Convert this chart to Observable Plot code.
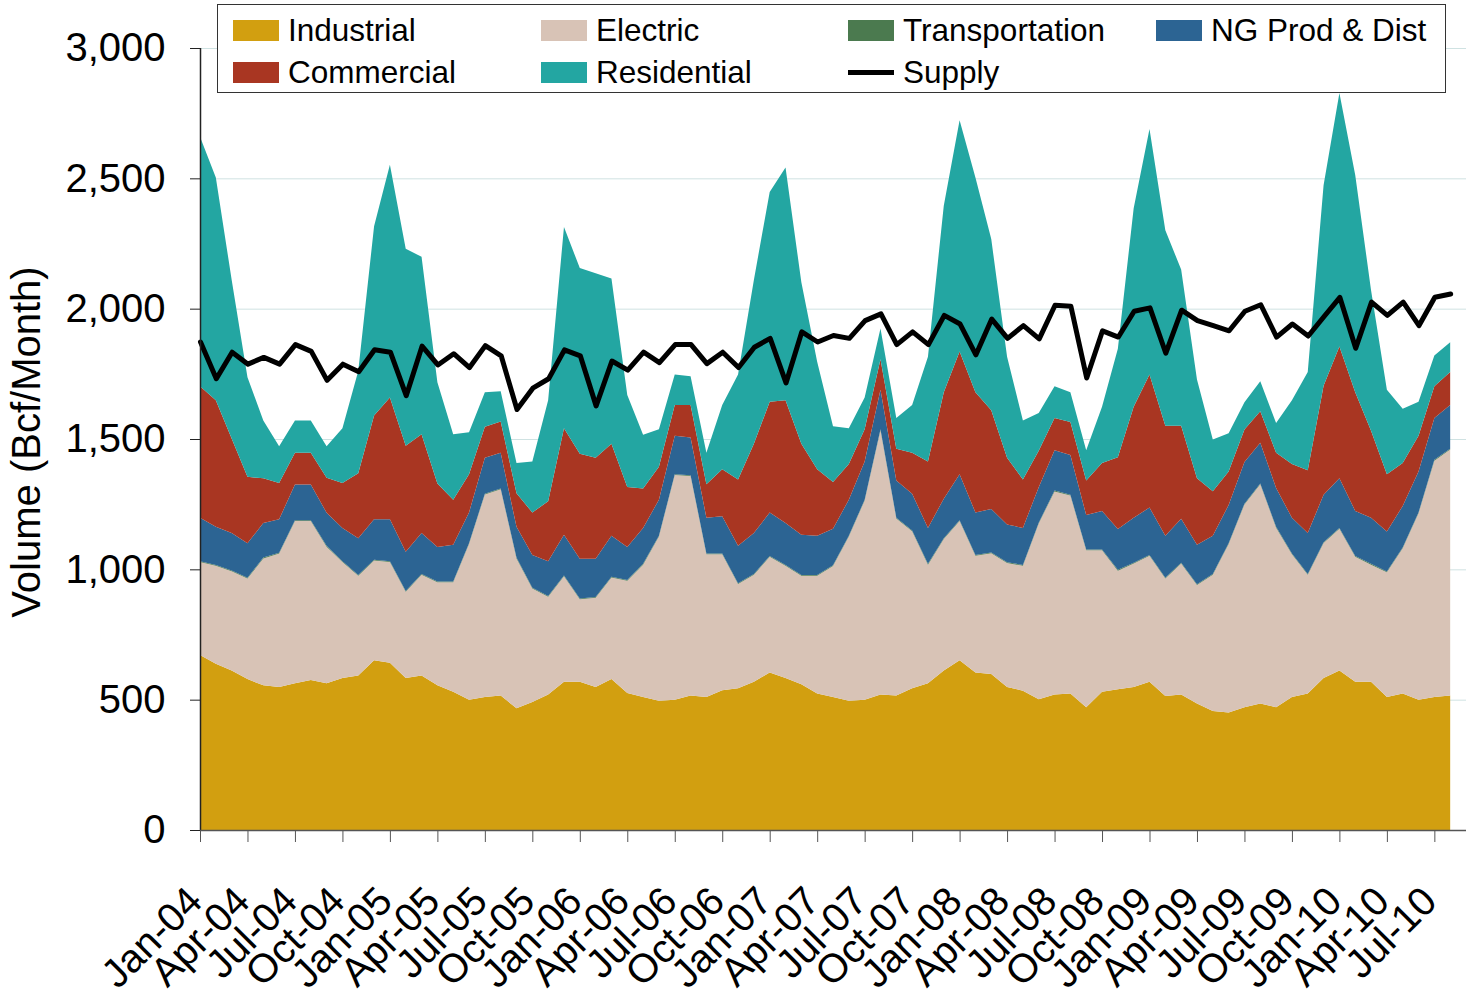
<!DOCTYPE html>
<html>
<head>
<meta charset="utf-8">
<script src="https://cdn.jsdelivr.net/npm/d3@7"></script>
<script src="https://cdn.jsdelivr.net/npm/@observablehq/plot@0.6"></script>
<style>
  html, body { margin: 0; padding: 0; background: #fff; }
  #wrap { position: relative; width: 1466px; height: 997px; font-family: "Liberation Sans", Arial, sans-serif; }
  #legend { position: absolute; left: 217px; top: 4px; width: 1229px; height: 89px; border: 1.5px solid #333; background: #fff; box-sizing: border-box; }
  .item { position: absolute; font-size: 31.5px; line-height: 32px; color: #000; white-space: nowrap; }
  .sw { position: absolute; width: 46px; height: 21px; }
  .ln { position: absolute; width: 46px; height: 5px; background: #000; }
  #ylabel { position: absolute; left: 26px; top: 442px; transform: translate(-50%, -50%) rotate(-90deg); font-size: 40px; white-space: nowrap; color: #000; }
</style>
</head>
<body>
<div id="wrap"><div id="chart"></div><div id="legend"></div><div id="ylabel">Volume (Bcf/Month)</div></div>
<script>
// ---------- data (Bcf/Month), monthly Jan-04 .. Aug-10 ----------
const seriesNames = ["Industrial", "Electric", "Transportation", "NG Prod & Dist", "Commercial", "Residential"];
const seriesColors = ["#D29F10", "#D8C3B6", "#4B7A4F", "#2C6493", "#A93622", "#23A6A2"];
const legendOrder = ["Industrial", "Electric", "Transportation", "NG Prod & Dist", "Commercial", "Residential", "Supply"];

const tickLabels = ["Jan-04","Apr-04","Jul-04","Oct-04","Jan-05","Apr-05","Jul-05","Oct-05","Jan-06","Apr-06","Jul-06","Oct-06","Jan-07","Apr-07","Jul-07","Oct-07","Jan-08","Apr-08","Jul-08","Oct-08","Jan-09","Apr-09","Jul-09","Oct-09","Jan-10","Apr-10","Jul-10"];
const yTicks = [0, 500, 1000, 1500, 2000, 2500, 3000];

const industrial = [
  671,638,612,579,555,549,563,575,563,583,
  593,651,642,583,593,555,530,500,510,516,
  467,491,520,569,569,549,579,526,510,496,
  500,516,510,536,544,569,604,583,559,524,
  510,496,500,520,516,544,563,612,651,604,
  598,549,534,502,520,524,471,530,540,549,
  569,514,520,485,457,451,471,485,471,510,
  524,583,612,569,569,510,524,500,510,516];
const electric = [
  357,376,381,386,487,512,622,610,524,445,
  382,383,386,331,386,395,420,597,777,791,
  575,435,375,404,316,342,390,430,508,630,
  862,842,548,522,400,410,444,431,416,451,
  503,630,764,1014,679,602,455,504,534,448,
  464,475,480,674,779,759,602,543,455,473,
  483,451,502,455,522,646,778,841,689,548,
  455,518,544,479,449,479,557,715,907,944];
const transportation = [
  3,3,3,3,3,3,3,3,3,3,
  3,3,3,3,3,3,3,3,3,3,
  3,3,3,3,3,3,3,3,3,3,
  3,3,3,3,3,3,3,3,3,3,
  3,3,3,3,3,3,3,3,3,3,
  3,3,3,3,3,3,3,3,3,3,
  3,3,3,3,3,3,3,3,3,3,
  3,3,3,3,3,3,3,3,3,3];
const ngProdDist = [
  167,146,143,132,133,128,137,137,127,128,
  141,155,161,150,157,133,141,118,138,137,
  118,126,133,157,153,147,157,127,138,138,
  147,145,137,143,143,157,167,161,155,151,
  140,138,147,152,143,141,138,152,177,163,
  166,145,142,136,155,153,132,148,157,173,
  182,161,169,151,147,147,160,157,149,137,
  157,182,190,173,177,153,159,157,161,167];
const commercial = [
  504,486,363,255,171,139,122,122,134,172,
  250,398,467,407,379,243,173,147,119,120,
  129,163,230,408,402,387,353,230,151,127,
  118,124,128,180,255,343,425,471,349,255,
  179,137,123,117,122,157,255,408,471,461,
  379,256,186,140,124,126,133,184,275,426,
  510,422,357,255,171,128,124,120,135,206,
  241,418,506,455,334,220,165,137,121,127];
const residential = [
  958,854,609,382,222,141,124,124,121,210,
  392,726,893,756,681,389,251,161,132,116,
  116,196,388,772,713,708,634,353,206,143,
  117,111,121,246,402,628,805,893,619,412,
  214,137,122,118,118,183,402,716,887,824,
  657,388,226,145,121,114,116,216,416,761,
  942,750,599,379,198,147,105,116,114,245,
  377,769,972,834,539,324,208,131,118,114];
const supply = [
  1874,1733,1835,1789,1815,1789,1864,1838,1727,1789,
  1760,1844,1835,1668,1858,1786,1829,1776,1860,1821,
  1615,1697,1733,1844,1821,1629,1801,1766,1835,1795,
  1864,1864,1791,1835,1776,1854,1888,1717,1913,1874,
  1899,1888,1956,1982,1864,1913,1864,1976,1943,1825,
  1962,1888,1937,1886,2015,2011,1736,1917,1893,1992,
  2005,1831,1996,1956,1937,1917,1992,2017,1893,1943,
  1897,1972,2045,1850,2027,1976,2027,1937,2046,2058];

// ---------- build tables ----------
const seriesValues = [industrial, electric, transportation, ngProdDist, commercial, residential];
const stacked = seriesNames.flatMap((name, s) => seriesValues[s].map((v, m) => ({m, series: name, value: v})));
const supplyData = supply.map((v, m) => ({m, value: v}));
const xTicks = tickLabels.map((_, i) => i * 3);
const FONT = '"Liberation Sans", Arial, sans-serif';

const chart = Plot.plot({
  width: 1466,
  height: 997,
  marginLeft: 200,
  marginRight: 0,
  marginTop: 48,
  marginBottom: 167,
  style: {fontFamily: FONT, background: "transparent", color: "#000"},
  x: {domain: [0, 80], label: null},
  y: {domain: [0, 3000], label: null},
  color: {domain: seriesNames, range: seriesColors},
  marks: [
    Plot.gridY(yTicks, {stroke: "#cfe2e2", strokeOpacity: 1, strokeWidth: 1}),
    Plot.areaY(stacked, {x: "m", y: "value", z: "series", fill: "series", order: seriesNames}),
    Plot.line(supplyData, {x: "m", y: "value", stroke: "#000", strokeWidth: 5, strokeLinejoin: "round"}),
    Plot.ruleX([0], {stroke: "#222", strokeWidth: 1.5}),
    Plot.ruleY([0], {stroke: "#555", strokeWidth: 1.5}),
    Plot.axisY({ticks: yTicks, tickFormat: d3.format(","), tickSize: 10, tickPadding: 25, fontSize: 40, stroke: "#222", label: null}),
    Plot.axisX({ticks: xTicks, tickFormat: () => "", tickSize: 12, stroke: "#555", label: null}),
    Plot.axisX({ticks: xTicks, tickFormat: (d) => tickLabels[d / 3], tickSize: 0, tickPadding: 64, tickRotate: -45, fontSize: 40, dx: -5, label: null})
  ]
});
document.getElementById("chart").appendChild(chart);

// ---------- legend ----------
const legend = document.getElementById("legend");
const colX = [15, 323, 630, 938];
const rowY = [15, 57];
legendOrder.forEach((name, i) => {
  const col = i < 4 ? i : i - 4;
  const row = i < 4 ? 0 : 1;
  if (name === "Supply") {
    const l = document.createElement("div");
    l.className = "ln";
    l.style.left = colX[col] + "px";
    l.style.top = (rowY[row] + 8) + "px";
    legend.appendChild(l);
  } else {
    const s = document.createElement("div");
    s.className = "sw";
    s.style.left = colX[col] + "px";
    s.style.top = rowY[row] + "px";
    s.style.background = seriesColors[seriesNames.indexOf(name)];
    legend.appendChild(s);
  }
  const t = document.createElement("div");
  t.className = "item";
  t.textContent = name;
  t.style.left = (colX[col] + 55) + "px";
  t.style.top = (rowY[row] - 6) + "px";
  legend.appendChild(t);
});
</script>
</body>
</html>
